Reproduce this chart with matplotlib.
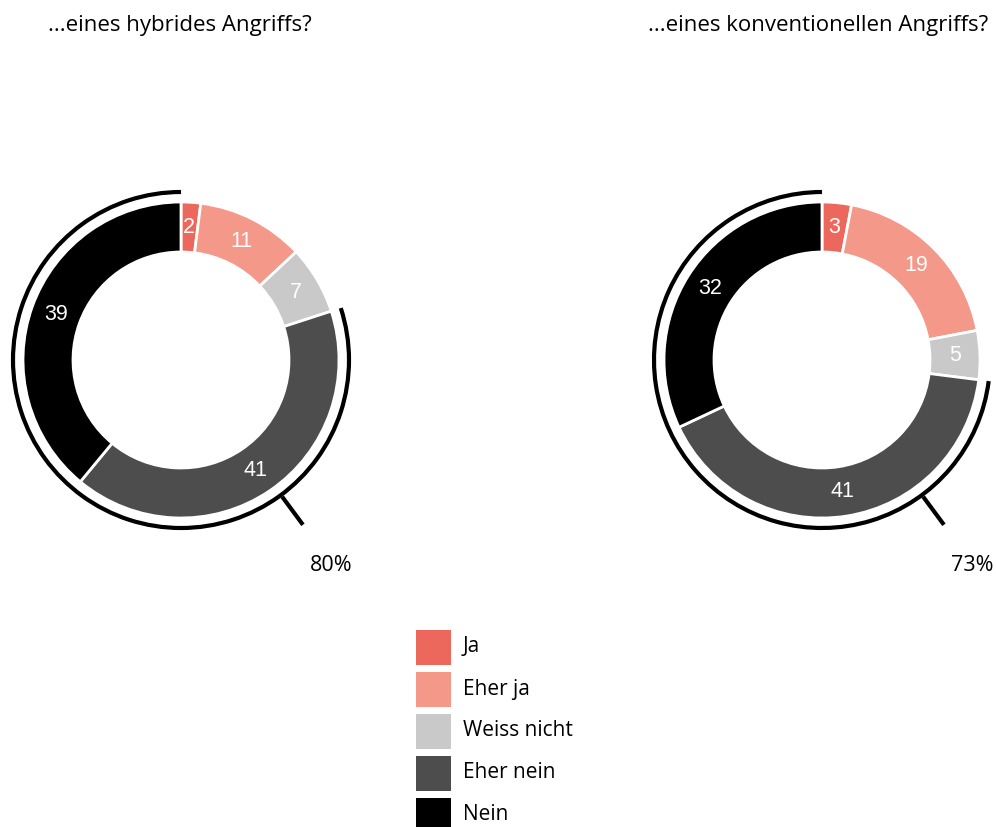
import numpy as np
import matplotlib
matplotlib.use("Agg")
import matplotlib.pyplot as plt
from matplotlib.patches import Arc, Rectangle

categories = ["Ja", "Eher ja", "Weiss nicht", "Eher nein", "Nein"]
colors = ["#ec685c", "#f4998a", "#c9c9c9", "#4d4d4d", "#000000"]

titles = ["...eines hybrides Angriffs?", "...eines konventionellen Angriffs?"]
hybrid = [2, 11, 7, 41, 39]
conventional = [3, 19, 5, 41, 32]
totals_no = ["80%", "73%"]

W, H = 996, 827
fig = plt.figure(figsize=(W / 100, H / 100), dpi=100)
ax = fig.add_axes([0, 0, 1, 1])

label_font = "Open Sans"
num_font = "Liberation Sans"

centers = [(181, H - 360), (822, H - 360)]
title_x = [48, 648]
r_out, r_in = 158, 108
r_arc = 168
tick_angle = np.deg2rad(-53.5)

for k, vals in enumerate([hybrid, conventional]):
    cx, cy = centers[k]
    ax.pie(vals, colors=colors, center=(cx, cy), radius=r_out, startangle=90,
           counterclock=False,
           wedgeprops=dict(width=r_out - r_in, edgecolor="white", linewidth=2))
    # values on the ring
    cum = np.cumsum([0] + vals)
    total = cum[-1]
    for i, v in enumerate(vals):
        mid = (cum[i] + cum[i + 1]) / 2 / total
        ang = np.deg2rad(90 - 360 * mid)
        rm = (r_out + r_in) / 2
        ax.text(cx + rm * np.cos(ang), cy + rm * np.sin(ang), str(v),
                ha="center", va="center", color="white", fontsize=15.5,
                family=num_font)
    # outer arc for "Eher nein" + "Nein"
    f0 = cum[3] / total
    ax.add_patch(Arc((cx, cy), 2 * r_arc, 2 * r_arc, theta1=90,
                     theta2=90 + 360 * (1 - f0), lw=3, color="black"))
    x1, y1 = cx + 170 * np.cos(tick_angle), cy + 170 * np.sin(tick_angle)
    x2, y2 = cx + 205 * np.cos(tick_angle), cy + 205 * np.sin(tick_angle)
    ax.plot([x1, x2], [y1, y2], color="black", lw=3, solid_capstyle="butt")
    ax.text(x2 + 28, y2 - 41, totals_no[k], ha="center", va="center",
            fontsize=15.5, family=label_font)
    ax.text(title_x[k], H - 25, titles[k], ha="left", va="center",
            fontsize=16, family=label_font)

# legend
for i, (cat, col) in enumerate(zip(categories, colors)):
    yc = H - (647 + 42 * i)
    ax.add_patch(Rectangle((416, yc - 17.5), 35, 35, facecolor=col, edgecolor="none"))
    ax.text(463, yc, cat, ha="left", va="center", fontsize=15, family=label_font)

ax.set_xlim(0, W)
ax.set_ylim(0, H)
ax.set_aspect("equal")
ax.axis("off")

fig.savefig("out.png", dpi=100)
